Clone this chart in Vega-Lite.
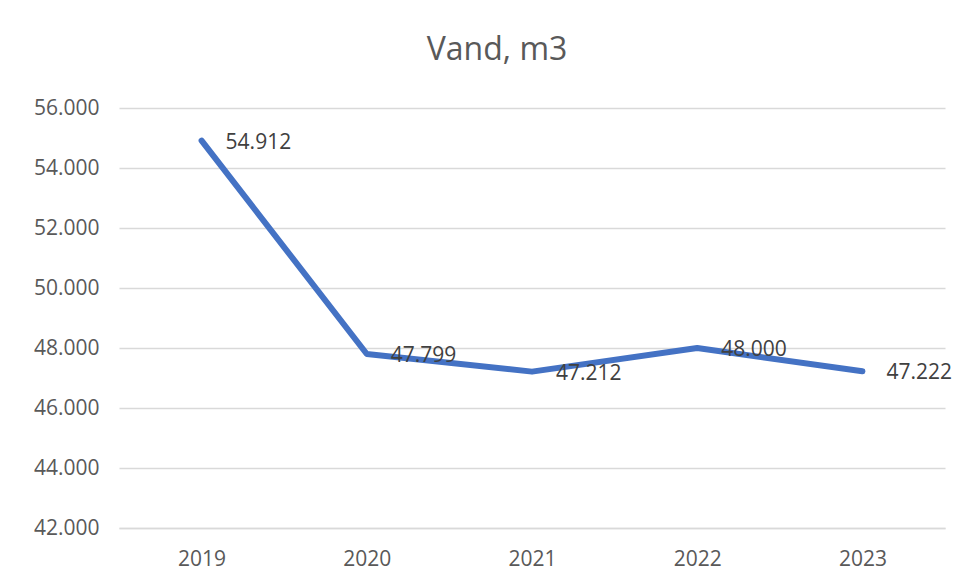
{
  "$schema": "https://vega.github.io/schema/vega-lite/v6.json",
  "width": 826,
  "height": 420,
  "autosize": {"type": "none"},
  "padding": {"left": 119, "top": 108, "right": 13, "bottom": 54},
  "background": "white",
  "config": {
    "locale": {"number": {"decimal": ",", "thousands": ".", "grouping": [3], "currency": ["", " kr."]}},
    "view": {"stroke": null},
    "font": "Open Sans"
  },
  "title": {
    "text": "Vand, m3",
    "font": "Open Sans",
    "fontSize": 32,
    "fontWeight": "normal",
    "color": "#595959",
    "anchor": "middle",
    "frame": "group",
    "dx": -35,
    "offset": 30
  },
  "data": {
    "values": [
      {"year": "2019", "value": 54912},
      {"year": "2020", "value": 47799},
      {"year": "2021", "value": 47212},
      {"year": "2022", "value": 48000},
      {"year": "2023", "value": 47222}
    ]
  },
  "encoding": {
    "x": {
      "field": "year",
      "type": "ordinal",
      "scale": {"paddingInner": 0, "paddingOuter": 0},
      "axis": {
        "title": null,
        "labelAngle": 0,
        "labelFont": "Open Sans",
        "labelFontSize": 21,
        "labelColor": "#595959",
        "labelPadding": 20,
        "ticks": false,
        "domain": true,
        "domainColor": "#d9d9d9",
        "domainWidth": 1.5,
        "grid": false
      }
    },
    "y": {
      "field": "value",
      "type": "quantitative",
      "scale": {"domain": [42000, 56000], "nice": false, "zero": false},
      "axis": {
        "title": null,
        "values": [42000, 44000, 46000, 48000, 50000, 52000, 54000, 56000],
        "format": ",d",
        "labelFont": "Open Sans",
        "labelFontSize": 21,
        "labelColor": "#595959",
        "labelPadding": 20,
        "ticks": false,
        "domain": false,
        "grid": true,
        "gridColor": "#d9d9d9",
        "gridWidth": 1.5
      }
    }
  },
  "layer": [
    {
      "mark": {"type": "line", "color": "#4472C4", "strokeWidth": 6, "strokeCap": "round", "strokeJoin": "round"}
    },
    {
      "mark": {"type": "text", "align": "left", "baseline": "middle", "dx": 24, "dy": 2, "font": "Open Sans", "fontSize": 21, "color": "#404040"},
      "encoding": {
        "text": {"field": "value", "type": "quantitative", "format": ",d"}
      }
    }
  ]
}
